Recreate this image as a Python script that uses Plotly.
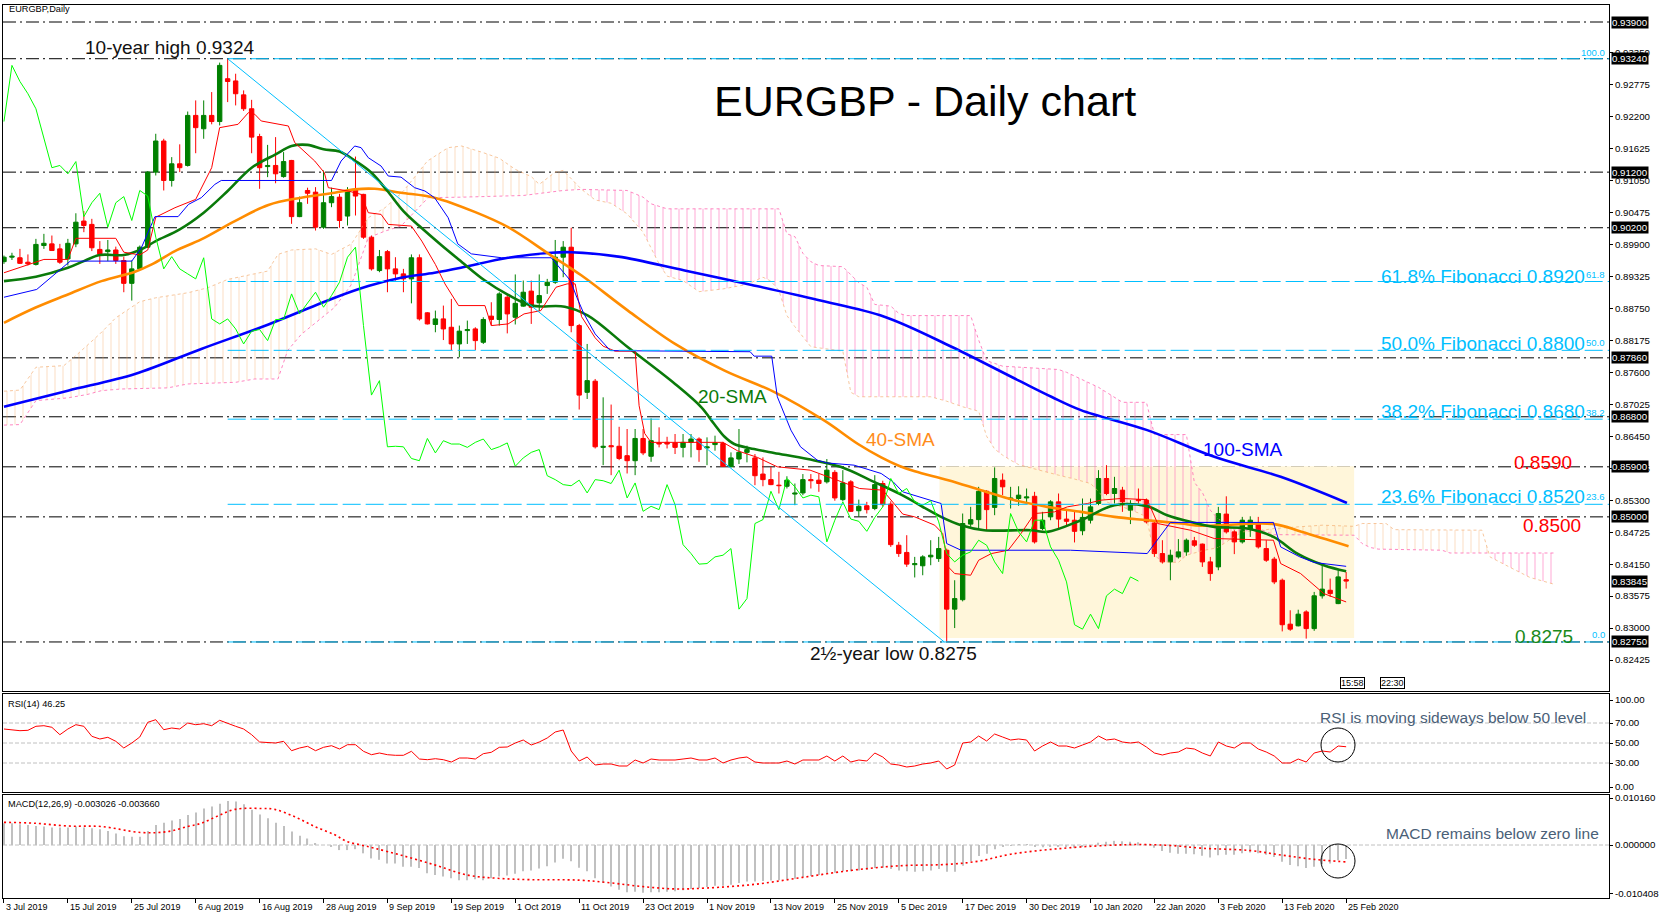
import plotly.graph_objects as go

# ---------------- data ----------------
OPEN = [0.8959, 0.8967, 0.8966, 0.8958, 0.8954, 0.8988, 0.8991, 0.8982, 0.8964, 0.8991,
        0.9032, 0.9026, 0.8981, 0.8977, 0.8980, 0.8961, 0.8920, 0.8946, 0.8985, 0.9120,
        0.9176, 0.9105, 0.9135, 0.9132, 0.9222, 0.9198, 0.9222, 0.9211, 0.9288, 0.9284,
        0.9259, 0.9234, 0.9184, 0.9130, 0.9132, 0.9112, 0.9141, 0.9040, 0.9087, 0.9084,
        0.9021, 0.9065, 0.9075, 0.9041, 0.9088, 0.9080, 0.9003, 0.8943, 0.8977, 0.8946,
        0.8937, 0.8928, 0.8966, 0.8867, 0.8846, 0.8856, 0.8841, 0.8811, 0.8835, 0.8838,
        0.8814, 0.8861, 0.8855, 0.8895, 0.8859, 0.8879, 0.8906, 0.8885, 0.8916, 0.8922,
        0.8967, 0.8985, 0.8844, 0.8724, 0.8744, 0.8625, 0.8628, 0.8627, 0.8610, 0.8601,
        0.8641, 0.8609, 0.8633, 0.8634, 0.8633, 0.8625, 0.8634, 0.8640, 0.8624, 0.8630,
        0.8632, 0.8590, 0.8604, 0.8616, 0.8606, 0.8577, 0.8567, 0.8557, 0.8555, 0.8541,
        0.8543, 0.8567, 0.8566, 0.8563, 0.8580, 0.8531, 0.8563, 0.8511, 0.8520, 0.8515,
        0.8560, 0.8523, 0.8449, 0.8436, 0.8414, 0.8412, 0.8428, 0.8425, 0.8440, 0.8334,
        0.8351, 0.8487, 0.8495, 0.8546, 0.8517, 0.8566, 0.8532, 0.8533, 0.8534, 0.8537,
        0.8479, 0.8500, 0.8527, 0.8496, 0.8494, 0.8475, 0.8494, 0.8524, 0.8569, 0.8542,
        0.8548, 0.8512, 0.8531, 0.8530, 0.8489, 0.8434, 0.8419, 0.8428, 0.8437, 0.8457,
        0.8451, 0.8419, 0.8410, 0.8505, 0.8473, 0.8455, 0.8478, 0.8488, 0.8443, 0.8424,
        0.8386, 0.8307, 0.8304, 0.8329, 0.8299, 0.8358, 0.8368, 0.8344, 0.8387]
HIGH = [0.8970, 0.8975, 0.8982, 0.8972, 0.9000, 0.9009, 0.9006, 0.8991, 0.9000, 0.9046,
        0.9050, 0.9036, 0.8996, 0.8998, 0.8986, 0.8968, 0.8961, 0.8988, 0.9122, 0.9189,
        0.9180, 0.9147, 0.9170, 0.9229, 0.9249, 0.9249, 0.9264, 0.9317, 0.9324, 0.9297,
        0.9267, 0.9250, 0.9189, 0.9169, 0.9183, 0.9156, 0.9142, 0.9076, 0.9092, 0.9093,
        0.9123, 0.9092, 0.9081, 0.9093, 0.9148, 0.9081, 0.9006, 0.8980, 0.8980, 0.8967,
        0.8946, 0.8972, 0.8972, 0.8868, 0.8871, 0.8880, 0.8892, 0.8844, 0.8853, 0.8841,
        0.8859, 0.8886, 0.8904, 0.8901, 0.8936, 0.8925, 0.8925, 0.8936, 0.8928, 0.8998,
        0.8996, 0.9020, 0.8847, 0.8811, 0.8748, 0.8715, 0.8702, 0.8662, 0.8658, 0.8658,
        0.8658, 0.8677, 0.8661, 0.8644, 0.8649, 0.8649, 0.8649, 0.8643, 0.8643, 0.8646,
        0.8635, 0.8616, 0.8658, 0.8628, 0.8613, 0.8607, 0.8590, 0.8581, 0.8573, 0.8560,
        0.8577, 0.8577, 0.8577, 0.8604, 0.8584, 0.8584, 0.8566, 0.8531, 0.8527, 0.8575,
        0.8565, 0.8528, 0.8455, 0.8467, 0.8428, 0.8431, 0.8458, 0.8464, 0.8443, 0.8386,
        0.8506, 0.8518, 0.8554, 0.8548, 0.8589, 0.8578, 0.8554, 0.8555, 0.8551, 0.8545,
        0.8509, 0.8530, 0.8542, 0.8512, 0.8512, 0.8533, 0.8533, 0.8584, 0.8593, 0.8572,
        0.8554, 0.8530, 0.8551, 0.8533, 0.8494, 0.8458, 0.8441, 0.8460, 0.8461, 0.8464,
        0.8452, 0.8428, 0.8518, 0.8537, 0.8476, 0.8500, 0.8501, 0.8500, 0.8458, 0.8428,
        0.8389, 0.8332, 0.8333, 0.8332, 0.8365, 0.8413, 0.8389, 0.8404, 0.8401]
LOW = [0.8955, 0.8962, 0.8955, 0.8952, 0.8952, 0.8982, 0.8979, 0.8955, 0.8952, 0.8985,
       0.9012, 0.8978, 0.8955, 0.8960, 0.8955, 0.8904, 0.8889, 0.8944, 0.8984, 0.9114,
       0.9087, 0.9094, 0.9120, 0.9130, 0.9154, 0.9180, 0.9206, 0.9204, 0.9246, 0.9240,
       0.9230, 0.9154, 0.9090, 0.9111, 0.9100, 0.9110, 0.9027, 0.9039, 0.9063, 0.9015,
       0.9018, 0.9057, 0.9020, 0.9024, 0.9042, 0.9000, 0.8943, 0.8940, 0.8904, 0.8925,
       0.8904, 0.8884, 0.8853, 0.8846, 0.8832, 0.8818, 0.8800, 0.8787, 0.8811, 0.8800,
       0.8811, 0.8844, 0.8844, 0.8830, 0.8846, 0.8878, 0.8847, 0.8870, 0.8901, 0.8919,
       0.8931, 0.8832, 0.8693, 0.8712, 0.8623, 0.8593, 0.8575, 0.8602, 0.8578, 0.8575,
       0.8611, 0.8599, 0.8625, 0.8623, 0.8613, 0.8607, 0.8607, 0.8599, 0.8593, 0.8619,
       0.8590, 0.8589, 0.8595, 0.8598, 0.8557, 0.8555, 0.8557, 0.8542, 0.8551, 0.8521,
       0.8539, 0.8551, 0.8545, 0.8560, 0.8529, 0.8528, 0.8509, 0.8500, 0.8506, 0.8512,
       0.8518, 0.8446, 0.8428, 0.8410, 0.8391, 0.8395, 0.8413, 0.8419, 0.8276, 0.8300,
       0.8348, 0.8482, 0.8479, 0.8476, 0.8503, 0.8539, 0.8515, 0.8520, 0.8524, 0.8452,
       0.8476, 0.8494, 0.8480, 0.8485, 0.8454, 0.8467, 0.8488, 0.8521, 0.8539, 0.8524,
       0.8509, 0.8487, 0.8524, 0.8488, 0.8428, 0.8416, 0.8386, 0.8425, 0.8430, 0.8446,
       0.8410, 0.8385, 0.8404, 0.8470, 0.8433, 0.8452, 0.8464, 0.8443, 0.8419, 0.8379,
       0.8294, 0.8295, 0.8303, 0.8281, 0.8295, 0.8353, 0.8356, 0.8343, 0.8371]
CLOSE = [0.8967, 0.8969, 0.8956, 0.8955, 0.8990, 0.8992, 0.8979, 0.8958, 0.8992, 0.9030,
         0.9024, 0.8984, 0.8972, 0.8980, 0.8961, 0.8920, 0.8946, 0.8985, 0.9120, 0.9176,
         0.9105, 0.9135, 0.9128, 0.9222, 0.9200, 0.9222, 0.9211, 0.9312, 0.9283, 0.9261,
         0.9234, 0.9183, 0.9128, 0.9132, 0.9117, 0.9139, 0.9040, 0.9065, 0.9082, 0.9021,
         0.9065, 0.9076, 0.9033, 0.9087, 0.9077, 0.9003, 0.8946, 0.8968, 0.8946, 0.8937,
         0.8928, 0.8966, 0.8856, 0.8847, 0.8856, 0.8838, 0.8811, 0.8834, 0.8837, 0.8817,
         0.8855, 0.8855, 0.8901, 0.8865, 0.8884, 0.8904, 0.8877, 0.8898, 0.8922, 0.8967,
         0.8985, 0.8844, 0.8719, 0.8745, 0.8626, 0.8627, 0.8626, 0.8605, 0.8601, 0.8641,
         0.8615, 0.8637, 0.8631, 0.8631, 0.8625, 0.8634, 0.8640, 0.8621, 0.8626, 0.8633,
         0.8591, 0.8606, 0.8616, 0.8621, 0.8574, 0.8567, 0.8558, 0.8556, 0.8566, 0.8543,
         0.8567, 0.8565, 0.8560, 0.8584, 0.8534, 0.8561, 0.8510, 0.8519, 0.8513, 0.8558,
         0.8522, 0.8450, 0.8434, 0.8415, 0.8416, 0.8428, 0.8431, 0.8443, 0.8334, 0.8353,
         0.8488, 0.8495, 0.8546, 0.8513, 0.8569, 0.8554, 0.8534, 0.8539, 0.8536, 0.8455,
         0.8494, 0.8527, 0.8496, 0.8492, 0.8474, 0.8499, 0.8518, 0.8569, 0.8542, 0.8551,
         0.8527, 0.8521, 0.8529, 0.8491, 0.8434, 0.8419, 0.8431, 0.8437, 0.8458, 0.8449,
         0.8419, 0.8398, 0.8506, 0.8473, 0.8455, 0.8494, 0.8494, 0.8446, 0.8422, 0.8383,
         0.8306, 0.8298, 0.8325, 0.8299, 0.8358, 0.8370, 0.8362, 0.8392, 0.83845]

# one label every 8 bars, starting at bar 0
DATE_LABELS = ["3 Jul 2019", "15 Jul 2019", "25 Jul 2019", "6 Aug 2019", "16 Aug 2019",
               "28 Aug 2019", "9 Sep 2019", "19 Sep 2019", "1 Oct 2019", "11 Oct 2019",
               "23 Oct 2019", "1 Nov 2019", "13 Nov 2019", "25 Nov 2019", "5 Dec 2019",
               "17 Dec 2019", "30 Dec 2019", "10 Jan 2020", "22 Jan 2020", "3 Feb 2020",
               "13 Feb 2020", "25 Feb 2020"]

# moving averages (bar, value)
SMA20_X = [0, 4, 8, 10, 12, 15, 17, 19, 22, 25, 28, 31, 34, 36, 38, 40, 42, 44, 46, 48, 50, 52,
           54.8, 57, 60.2, 63, 66, 70.2, 73.1, 78.1, 84, 87.3, 88.9, 90.2, 91.4, 93.9, 96.4,
           100.6, 104.7, 108.9, 112.3, 117.3, 119.8, 122.7, 128.6, 130.6, 134.8, 139, 143.1,
           145.6, 148.5, 151.5, 155.6, 158.9, 161.9, 165.2, 168]
SMA20_Y = [0.8924, 0.8932, 0.8948, 0.8960, 0.8971, 0.8971, 0.8980, 0.8996, 0.9017, 0.9047,
           0.9086, 0.9128, 0.9152, 0.9167, 0.9169, 0.9161, 0.9157, 0.9140, 0.9119, 0.9086,
           0.9050, 0.9023, 0.8988, 0.8962, 0.8925, 0.8900, 0.8880, 0.8878, 0.8862, 0.8805,
           0.8739, 0.8697, 0.8667, 0.8644, 0.8631, 0.8622, 0.8615, 0.8604, 0.8590, 0.8563,
           0.8540, 0.8500, 0.8485, 0.8476, 0.8476, 0.8473, 0.8494, 0.8521, 0.8519, 0.8503,
           0.8491, 0.8482, 0.8479, 0.8464, 0.8434, 0.8413, 0.8402]
SMA40_X = [0, 3.9, 8, 12.2, 16.4, 18.5, 21.4, 24.7, 28.9, 33.1, 37.2, 41.4, 43.9, 46.4, 49.7,
           53.9, 59, 63.1, 68.5, 72.3, 78.1, 84, 90.2, 96.5, 102.7, 106.9, 109.8, 112, 114,
           118.2, 122.3, 126.5, 130.6, 134.8, 139, 143.1, 147.3, 150, 159, 162.4, 168.3]
SMA40_Y = [0.8849, 0.8876, 0.8900, 0.8924, 0.8941, 0.8954, 0.8978, 0.8999, 0.9032, 0.9061,
           0.9074, 0.9083, 0.9089, 0.9090, 0.9083, 0.9074, 0.9048, 0.9021, 0.8970, 0.8934,
           0.8871, 0.8811, 0.8763, 0.8724, 0.8673, 0.8631, 0.8607, 0.8592, 0.8582, 0.8566,
           0.8548, 0.8530, 0.8518, 0.8509, 0.8500, 0.8494, 0.8488, 0.8484, 0.8487, 0.8473,
           0.8447]
SMA100_X = [0, 8, 16.4, 24.7, 33.1, 41.4, 45.6, 49.7, 53.9, 57.2, 63.1, 68.5, 71, 76.9, 85.2,
            93.6, 101.9, 110.2, 118.6, 126.9, 131.1, 134.8, 143.1, 151.5, 159.8, 168.1]
SMA100_Y = [0.8698, 0.8727, 0.8757, 0.8802, 0.8846, 0.8894, 0.8915, 0.8930, 0.8939, 0.8948,
            0.8966, 0.8975, 0.8976, 0.8968, 0.8943, 0.8917, 0.8890, 0.8860, 0.8806, 0.8746,
            0.8716, 0.8692, 0.8656, 0.8608, 0.8572, 0.8525]

# Ichimoku lines (bar, value)
TENKAN_X = [0, 5, 8, 9, 14, 15, 17, 18, 19, 21.4, 24, 26, 27, 29.3, 30.6, 31.4, 32.2, 35.6,
            36.4, 38.9, 40.1, 40.6, 43.1, 44.7, 45.6, 47.2, 48.1, 51, 52.3, 54, 55.2, 56.9,
            60.2, 61, 63.1, 65.1, 67.2, 69.1, 70.5, 71.5, 72.3, 74, 75, 76.5, 79, 79.5, 80.2,
            81, 90, 91.8, 94.3, 96.8, 100.9, 105, 107.1, 110, 112.5, 114, 116.5, 117.5, 118.2,
            119, 121, 122, 123.6, 125.7, 127.3, 129, 131.5, 133.1, 135.6, 137.3, 139.8, 143.1,
            144.4, 148.5, 151.5, 158.9, 159.8, 162.3, 165.2, 168]
TENKAN_Y = [0.8939, 0.8963, 0.8963, 0.9001, 0.9001, 0.8976, 0.8971, 0.8980, 0.9039, 0.9056,
            0.9071, 0.9128, 0.9200, 0.9206, 0.9227, 0.9224, 0.9212, 0.9203, 0.9173, 0.9140,
            0.9119, 0.9092, 0.9086, 0.9080, 0.9047, 0.9044, 0.9026, 0.9023, 0.8996, 0.8954,
            0.8919, 0.8880, 0.8880, 0.8844, 0.8847, 0.8865, 0.8871, 0.8913, 0.8919, 0.8919,
            0.8860, 0.8822, 0.8807, 0.8798, 0.8798, 0.8700, 0.8650, 0.8634, 0.8634, 0.8619,
            0.8607, 0.8590, 0.8584, 0.8563, 0.8551, 0.8548, 0.8505, 0.8500, 0.8485, 0.8470,
            0.8410, 0.8398, 0.8395, 0.8422, 0.8434, 0.8440, 0.8470, 0.8506, 0.8509, 0.8518,
            0.8524, 0.8530, 0.8533, 0.8531, 0.8488, 0.8476, 0.8461, 0.8458, 0.8416, 0.8398,
            0.8362, 0.8347]
KIJUN_X = [0, 4.1, 8.3, 16, 17.2, 18.9, 21.8, 23.1, 24.7, 26.4, 27.2, 41, 42.2, 43.9, 44.7,
           45.6, 47.2, 48.1, 49.7, 51.4, 52.7, 53.9, 55.6, 56.8, 58.5, 62.3, 68.5, 70.9, 71.7,
           72.6, 74, 75.9, 93.4, 93.9, 96.1, 96.8, 98.5, 99.7, 101.8, 103, 106.4, 109.8, 111.3,
           112.5, 117.3, 118, 119.8, 133.5, 143.1, 146, 158.9, 159.8, 162.2, 164, 168]
KIJUN_Y = [0.8895, 0.8909, 0.8960, 0.8960, 0.8984, 0.9040, 0.9040, 0.9062, 0.9074, 0.9098,
           0.9105, 0.9105, 0.9140, 0.9167, 0.9164, 0.9146, 0.9131, 0.9113, 0.9111, 0.9092,
           0.9086, 0.9074, 0.9038, 0.8991, 0.8973, 0.8966, 0.8966, 0.8925, 0.8895, 0.8865,
           0.8829, 0.8799, 0.8797, 0.8789, 0.8789, 0.8716, 0.8656, 0.8626, 0.8602, 0.8597,
           0.8593, 0.8578, 0.8563, 0.8545, 0.8524, 0.8452, 0.8440, 0.8440, 0.8434, 0.8490,
           0.8490, 0.8446, 0.8428, 0.8418, 0.8411]
CHIKOU_SHIFT = 26

# Ichimoku spans (bar, value), the cloud runs 26 bars past the last candle
SPAN_A_X = [0, 2, 4, 7.5, 9, 12, 14, 17, 19, 23, 25.5, 28, 33, 34.3, 36, 39, 41, 43.5, 45.6,
            47.7, 50, 53, 55.6, 57.3, 60, 62, 64, 66, 67, 69, 70, 71, 72, 72.3, 74, 76, 78, 80,
            82, 83, 85, 87, 90, 93, 95, 96, 97, 98, 99, 100, 101, 105, 106, 107, 116, 118, 120,
            122, 123, 124, 125, 126, 127, 128, 130, 132, 134, 136, 137, 138, 139, 140, 142, 143,
            144, 145, 147, 148, 150, 152, 153, 155, 157, 157.5, 159, 162, 165, 169, 170, 173,
            174, 185, 185.85, 186, 188, 191, 194]
SPAN_A_Y = [0.8726, 0.8728, 0.8769, 0.8772, 0.8790, 0.8829, 0.8858, 0.8887, 0.8894, 0.8903,
            0.8912, 0.8927, 0.8942, 0.8972, 0.8980, 0.8982, 0.8972, 0.8991, 0.9038, 0.9056,
            0.9086, 0.9140, 0.9164, 0.9167, 0.9155, 0.9145, 0.9125, 0.9112, 0.9098, 0.9120,
            0.9123, 0.9108, 0.9093, 0.9089, 0.9070, 0.9064, 0.9045, 0.9012, 0.8955, 0.8933,
            0.8925, 0.8905, 0.8910, 0.8918, 0.8931, 0.8924, 0.8907, 0.8862, 0.8842, 0.8825,
            0.8806, 0.8798, 0.8724, 0.8716, 0.8716, 0.8708, 0.8698, 0.8690, 0.8645, 0.8622,
            0.8611, 0.8602, 0.8594, 0.8590, 0.8582, 0.8575, 0.8568, 0.8560, 0.8546, 0.8527,
            0.8521, 0.8518, 0.8507, 0.8500, 0.8431, 0.8419, 0.8418, 0.8431, 0.8439, 0.8445,
            0.8455, 0.8473, 0.8475, 0.8476, 0.8479, 0.8482, 0.8485, 0.8483, 0.8488, 0.8488,
            0.8477, 0.8476, 0.8435, 0.8428, 0.8413, 0.8391, 0.8379]
SPAN_B_X = [0, 2, 4, 8, 10.4, 12.2, 14.7, 20.5, 23, 29, 31.4, 34.3, 35.5, 37.2, 41.4, 43.5,
            45.6, 47.7, 49.7, 53.1, 57.3, 65, 70, 72.3, 78, 80, 81, 83, 97, 98, 99, 100, 101,
            102, 105, 106, 107, 108, 109, 111, 112, 113, 121, 122, 123, 125, 132, 133, 137, 138,
            139, 140, 143, 144, 148, 149, 150, 151, 152, 153, 154, 157, 157.5, 159, 169, 170,
            171, 172, 180, 181, 185.85, 194]
SPAN_B_Y = [0.8665, 0.8666, 0.8709, 0.8714, 0.8720, 0.8727, 0.8730, 0.8732, 0.8739, 0.8742,
            0.8748, 0.8748, 0.8799, 0.8828, 0.8877, 0.8918, 0.9002, 0.9014, 0.9023, 0.9074,
            0.9075, 0.9078, 0.9087, 0.9089, 0.9087, 0.9075, 0.9063, 0.9054, 0.9054, 0.9009,
            0.9004, 0.8974, 0.8959, 0.8952, 0.8950, 0.8936, 0.8921, 0.8913, 0.8882, 0.8879,
            0.8866, 0.8862, 0.8862, 0.8818, 0.8781, 0.8771, 0.8765, 0.8760, 0.8733, 0.8724,
            0.8715, 0.8706, 0.8706, 0.8648, 0.8648, 0.8562, 0.8544, 0.8512, 0.8496, 0.8489,
            0.8477, 0.8477, 0.8476, 0.8468, 0.8467, 0.8452, 0.8445, 0.8442, 0.8440, 0.8435,
            0.8435, 0.8435]
# bars where span A and span B cross (shared points of both lists)
KUMO_BREAKS = [0, 72.3, 157.5, 185.85, 194]
KUMO_UP = [True, False, True, False]     # True: span A above span B

RSI = [64.0, 63.0, 62.3, 62.7, 66.7, 67.3, 65.7, 58.3, 64.0, 68.3, 66.7, 56.7, 54.0, 55.7, 51.7,
       45.0, 50.0, 56.0, 70.7, 73.3, 63.3, 65.0, 64.0, 70.0, 68.3, 69.3, 67.3, 72.7, 69.3, 66.7,
       64.0, 58.3, 51.0, 50.7, 50.0, 51.7, 42.3, 45.0, 46.7, 42.3, 45.7, 47.3, 44.0, 48.3, 48.3,
       41.7, 38.3, 40.0, 38.3, 37.7, 37.7, 41.7, 34.0, 33.3, 34.3, 33.3, 31.0, 35.0, 35.0, 34.0,
       39.3, 40.7, 45.7, 46.0, 50.0, 53.0, 48.0, 51.0, 55.0, 61.0, 63.0, 42.0, 32.0, 36.0, 28.0,
       29.0, 29.0, 27.0, 27.0, 33.0, 30.0, 34.0, 33.0, 33.0, 33.0, 34.0, 35.0, 33.0, 33.0, 35.0,
       30.0, 33.0, 35.0, 36.0, 31.0, 30.0, 30.0, 30.0, 32.0, 29.0, 33.0, 33.0, 33.0, 37.0, 32.0,
       37.0, 31.0, 33.0, 32.0, 40.0, 36.0, 29.0, 28.0, 26.0, 27.0, 29.0, 30.0, 32.0, 24.0, 28.0,
       50.0, 51.0, 57.0, 52.0, 59.0, 56.0, 53.0, 54.0, 53.0, 42.0, 47.0, 51.0, 47.0, 47.0, 45.0,
       48.0, 51.0, 57.0, 53.0, 54.0, 51.0, 50.0, 51.0, 46.0, 40.0, 38.0, 40.0, 41.0, 45.0, 44.0,
       40.0, 37.0, 51.0, 47.0, 45.0, 50.0, 50.0, 44.0, 41.0, 37.0, 30.0, 30.0, 34.0, 31.0, 40.0,
       42.0, 41.0, 47.0, 46.25]
RSI_LEVELS = [70, 50, 30]

MACD = [0.0047, 0.0047, 0.0045, 0.0043, 0.0041, 0.0040, 0.0038, 0.0038, 0.0038, 0.0040,
        0.0038, 0.0036, 0.0034, 0.0030, 0.0025, 0.0019, 0.0018, 0.0018, 0.0030, 0.0043,
        0.0048, 0.0053, 0.0056, 0.0065, 0.0070, 0.0079, 0.0083, 0.0089, 0.0095, 0.0094,
        0.0088, 0.0076, 0.0066, 0.0058, 0.0048, 0.0041, 0.0029, 0.0020, 0.0014, 0.0004,
        0.0000, -0.0004, -0.0011, -0.0011, -0.0009, -0.0018, -0.0029, -0.0032, -0.0040, -0.0040,
        -0.0047, -0.0047, -0.0050, -0.0061, -0.0065, -0.0068, -0.0072, -0.0076, -0.0076, -0.0074,
        -0.0076, -0.0072, -0.0068, -0.0066, -0.0062, -0.0057, -0.0055, -0.0051, -0.0046, -0.0038,
        -0.0030, -0.0035, -0.0049, -0.0057, -0.0072, -0.0082, -0.0090, -0.0097, -0.0102, -0.0101,
        -0.0103, -0.0102, -0.0102, -0.0101, -0.0100, -0.0098, -0.0095, -0.0093, -0.0091, -0.0088,
        -0.0088, -0.0086, -0.0082, -0.0079, -0.0079, -0.0078, -0.0077, -0.0076, -0.0074, -0.0073,
        -0.0070, -0.0067, -0.0065, -0.0061, -0.0060, -0.0057, -0.0057, -0.0055, -0.0054, -0.0050,
        -0.0049, -0.0052, -0.0055, -0.0057, -0.0058, -0.0057, -0.0055, -0.0052, -0.0058, -0.0058,
        -0.0045, -0.0035, -0.0024, -0.0019, -0.0009, -0.0003, -0.0001, 0.0001, 0.0002, -0.0004,
        -0.0005, -0.0003, -0.0004, -0.0004, -0.0006, -0.0004, -0.0001, 0.0005, 0.0007, 0.0009,
        0.0008, 0.0007, 0.0006, 0.0002, -0.0006, -0.0013, -0.0017, -0.0019, -0.0019, -0.0020,
        -0.0023, -0.0027, -0.0022, -0.0021, -0.0021, -0.0018, -0.0016, -0.0018, -0.0021, -0.0026,
        -0.0036, -0.0043, -0.0046, -0.0050, -0.0047, -0.0042, -0.0040, -0.0033, -0.003026]
SIGNAL_X = [0, 3.9, 8, 12.2, 17.2, 20.5, 23, 24.7, 26.8, 28.9, 32.2, 33.9, 36.4, 38.9, 41.4, 43,
            44.7, 46.4, 49.7, 53.9, 58, 61.8, 66, 72, 76, 80, 84, 88, 94, 100, 106, 112, 118,
            122, 126, 132, 138, 142, 146, 150, 156, 160, 164, 168]
SIGNAL_Y = [0.0049, 0.0047, 0.0041, 0.0040, 0.0027, 0.0029, 0.0040, 0.0047, 0.0063, 0.0077,
            0.0079, 0.0077, 0.0061, 0.0040, 0.0022, 0.0007, 0.0000, -0.0007, -0.0022, -0.0043,
            -0.0065, -0.0072, -0.0075, -0.0076, -0.0082, -0.0090, -0.0095, -0.0093, -0.0085,
            -0.0070, -0.0055, -0.0045, -0.0042, -0.0035, -0.0020, -0.0008, -0.0001, 0.0001,
            -0.0001, -0.0007, -0.0012, -0.0022, -0.0031, -0.00366]

LEVELS = [0.9390, 0.9324, 0.9120, 0.9020, 0.8786, 0.8680, 0.8590, 0.8500, 0.8275]
FIB_HIGH, FIB_LOW = 0.9324, 0.8275
FIB_HIGH_BAR, FIB_LOW_BAR = 28, 117.7
FIB_PCT = [100.0, 61.8, 50.0, 38.2, 23.6, 0.0]
FIB_TEXT = {61.8: "61.8% Fibonacci 0.8920", 50.0: "50.0% Fibonacci 0.8800",
            38.2: "38.2% Fibonacci 0.8680", 23.6: "23.6% Fibonacci 0.8520"}
LAST_PRICE = 0.83845
RANGE_BOX = (117.1, 169.0, 0.8282, 0.8591)
PRICE_TICKS = [0.82425, 0.83000, 0.83575, 0.84150, 0.84725, 0.85300, 0.85875, 0.86450,
               0.87025, 0.87600, 0.88175, 0.88750, 0.89325, 0.89900, 0.90475, 0.91050,
               0.91625, 0.92200, 0.92775, 0.93350]

# ---------------- page geometry ----------------
W, H = 1662, 919
ML, MR, MT, MB = 3, 53, 5, 21
PW, PH = W - ML - MR, H - MT - MB


def px(x):
    return (x - ML) / PW


def py(y):
    return (H - MB - y) / PH


FONT = "Liberation Sans, Arial, sans-serif"
GREEN, RED = "#008000", "#FF0000"
FIB_COL = "#00BFFF"
PINK, SAND = "#FF69B4", "#F4A460"

n = len(CLOSE)
idx = list(range(n))
fig = go.Figure()

# ---------------- Ichimoku cloud ----------------
for k, up in enumerate(KUMO_UP):
    s, e = KUMO_BREAKS[k], KUMO_BREAKS[k + 1]
    ax = [x for x in SPAN_A_X if s <= x <= e]
    ay = [y for x, y in zip(SPAN_A_X, SPAN_A_Y) if s <= x <= e]
    bx = [x for x in SPAN_B_X if s <= x <= e]
    by = [y for x, y in zip(SPAN_B_X, SPAN_B_Y) if s <= x <= e]
    col = SAND if up else PINK
    fig.add_trace(go.Scatter(x=ax, y=ay, mode="lines", line=dict(width=0),
                             hoverinfo="skip", showlegend=False))
    fig.add_trace(go.Scatter(x=bx, y=by, mode="lines", line=dict(width=0),
                             fill="tonexty", fillcolor="rgba(0,0,0,0)",
                             fillpattern=dict(shape="|", size=8, solidity=0.12,
                                              fgcolor=col, fgopacity=0.4 if up else 0.6,
                                              bgcolor="rgba(0,0,0,0)"),
                             hoverinfo="skip", showlegend=False))

fig.add_trace(go.Scatter(x=SPAN_A_X, y=SPAN_A_Y, mode="lines", opacity=0.6,
                         line=dict(color=SAND, width=1, dash="dot"), showlegend=False))
fig.add_trace(go.Scatter(x=SPAN_B_X, y=SPAN_B_Y, mode="lines", opacity=0.8,
                         line=dict(color=PINK, width=1, dash="dot"), showlegend=False))

# ---------------- candles ----------------
up = [c >= o for o, c in zip(OPEN, CLOSE)]
ccol = [GREEN if u else RED for u in up]
for flag, col in ((True, GREEN), (False, RED)):
    wx, wy = [], []
    for i in idx:
        if up[i] == flag:
            wx += [i, i, None]
            wy += [LOW[i], HIGH[i], None]
    fig.add_trace(go.Scatter(x=wx, y=wy, mode="lines", line=dict(color=col, width=1),
                             hoverinfo="skip", showlegend=False))
fig.add_trace(go.Bar(x=idx, base=[min(o, c) for o, c in zip(OPEN, CLOSE)],
                     y=[max(abs(c - o), 0.00004) for o, c in zip(OPEN, CLOSE)],
                     width=0.55, marker=dict(color=ccol, line=dict(color=ccol, width=1)),
                     showlegend=False))

# ---------------- moving averages and Ichimoku lines ----------------
fig.add_trace(go.Scatter(x=SMA100_X, y=SMA100_Y, mode="lines", line_shape="spline",
                         line=dict(color="#0000FF", width=2.6), showlegend=False))
fig.add_trace(go.Scatter(x=SMA40_X, y=SMA40_Y, mode="lines", line_shape="spline",
                         line=dict(color="#FF8C00", width=2.6), showlegend=False))
fig.add_trace(go.Scatter(x=SMA20_X, y=SMA20_Y, mode="lines", line_shape="spline",
                         line=dict(color="#0A7A0A", width=2.6), showlegend=False))
fig.add_trace(go.Scatter(x=TENKAN_X, y=TENKAN_Y, mode="lines",
                         line=dict(color=RED, width=1), showlegend=False))
fig.add_trace(go.Scatter(x=KIJUN_X, y=KIJUN_Y, mode="lines",
                         line=dict(color="#0000FF", width=1), showlegend=False))
fig.add_trace(go.Scatter(x=[i - CHIKOU_SHIFT for i in idx[CHIKOU_SHIFT:]],
                         y=CLOSE[CHIKOU_SHIFT:], mode="lines",
                         line=dict(color="#00FF00", width=1), showlegend=False))

# ---------------- RSI ----------------
fig.add_trace(go.Scatter(x=idx, y=RSI, mode="lines", line=dict(color=RED, width=1),
                         xaxis="x2", yaxis="y2", showlegend=False))

# ---------------- MACD ----------------
fig.add_trace(go.Bar(x=idx, y=MACD, width=0.14, marker=dict(color="#C0C0C0", line_width=0),
                     xaxis="x3", yaxis="y3", showlegend=False))
fig.add_trace(go.Scatter(x=SIGNAL_X, y=SIGNAL_Y, mode="lines", line_shape="spline",
                         line=dict(color=RED, width=1.6, dash="2px,3px"),
                         xaxis="x3", yaxis="y3", showlegend=False))

# ---------------- shapes ----------------
shapes = []
x0b, x1b, y0b, y1b = RANGE_BOX
shapes.append(dict(type="rect", xref="x", yref="y", x0=x0b, x1=x1b, y0=y0b, y1=y1b,
                   fillcolor="#FFF6DA", line_width=0, layer="below"))
for lv in LEVELS:
    shapes.append(dict(type="line", xref="paper", yref="y", x0=0, x1=1, y0=lv, y1=lv,
                       line=dict(color="black", width=1, dash="13px,4px,2px,4px"),
                       layer="below"))
for p in FIB_PCT:
    lv = FIB_LOW + (FIB_HIGH - FIB_LOW) * p / 100
    shapes.append(dict(type="line", xref="x", yref="y", x0=FIB_HIGH_BAR, x1=201.1,
                       y0=lv, y1=lv, line=dict(color=FIB_COL, width=1, dash="18px,5px")))
shapes.append(dict(type="line", xref="x", yref="y", x0=FIB_HIGH_BAR, y0=FIB_HIGH,
                   x1=FIB_LOW_BAR, y1=FIB_LOW, line=dict(color=FIB_COL, width=1)))
for lv in RSI_LEVELS:
    shapes.append(dict(type="line", xref="paper", yref="y2", x0=0, x1=1, y0=lv, y1=lv,
                       line=dict(color="#C0C0C0", width=1, dash="4px,2px"), layer="below"))
shapes.append(dict(type="line", xref="paper", yref="y3", x0=0, x1=1, y0=0, y1=0,
                   line=dict(color="#C0C0C0", width=1, dash="4px,2px"), layer="below"))
for cy in (745, 861):
    shapes.append(dict(type="circle", xref="paper", yref="paper",
                       x0=px(1338 - 17), x1=px(1338 + 17), y0=py(cy + 17), y1=py(cy - 17),
                       line=dict(color="black", width=1)))

# ---------------- annotations ----------------
ann = []


def text(x, y, s, size, color="black", xanchor="center", **kw):
    ann.append(dict(x=px(x), y=py(y), xref="paper", yref="paper", text=s, showarrow=False,
                    xanchor=xanchor, yanchor="middle",
                    font=dict(family=FONT, size=size, color=color), **kw))


text(7, 9, "EURGBP,Daily", 9.2, xanchor="left")
text(83, 47, "10-year high 0.9324", 19, color="#111111", xanchor="left")
text(925, 101, "EURGBP - Daily chart", 43)
text(893, 653, "2½-year low 0.8275", 19, color="#111111")
text(732, 396, "20-SMA", 19, color="#0A7A0A")
text(900, 439, "40-SMA", 19, color="#FF8C1A")
text(1243, 449, "100-SMA", 19, color="#0000FF")
text(1543, 462, "0.8590", 19, color=RED)
text(1552, 525, "0.8500", 19, color=RED)
text(1544, 636, "0.8275", 19, color="#1A8A1A")
for p, yy in ((61.8, 276), (50.0, 343), (38.2, 411), (23.6, 496)):
    text(1587, yy, FIB_TEXT[p], 19, color=FIB_COL, xanchor="right")
for p, yy in ((100.0, 52), (61.8, 274), (50.0, 342), (38.2, 412), (23.6, 496), (0.0, 634)):
    text(1607, yy, "%.1f" % p, 9.5, color=FIB_COL, xanchor="right")
text(6, 704, "RSI(14) 46.25", 9.2, xanchor="left")
text(6, 804, "MACD(12,26,9) -0.003026 -0.003660", 9.2, xanchor="left")
text(1588, 717, "RSI is moving sideways below 50 level", 15.5, color="#4A6077",
     xanchor="right")
text(1601, 833, "MACD remains below zero line", 15.5, color="#4A6077", xanchor="right")
text(1352, 683, "15:58", 9, bgcolor="white", bordercolor="black", borderwidth=1,
     borderpad=0)
text(1392, 683, "22:30", 9, bgcolor="white", bordercolor="black", borderwidth=1,
     borderpad=0)

# black price boxes on the right scale
for lv in LEVELS + [LAST_PRICE]:
    ann.append(dict(x=1, y=lv, xref="paper", yref="y", text="%.5f" % lv, showarrow=False,
                    xanchor="left", yanchor="middle", xshift=2, bgcolor="black",
                    borderpad=0, font=dict(family=FONT, size=9.7, color="white")))

# date labels under the MACD pane
for k, lab in enumerate(DATE_LABELS):
    ann.append(dict(x=8 * k, y=py(907), xref="x3", yref="paper", text=lab, showarrow=False,
                    xanchor="left", yanchor="middle",
                    font=dict(family=FONT, size=9, color="black")))

# ---------------- axes / layout ----------------
xr = [-0.12, 200.9]
axis_common = dict(showgrid=False, zeroline=False, showline=True, mirror=True,
                   linecolor="black", linewidth=1)
fig.update_layout(
    width=W, height=H,
    margin=dict(l=ML, r=MR, t=MT, b=MB),
    paper_bgcolor="white", plot_bgcolor="white",
    barmode="overlay", hovermode=False, showlegend=False,
    xaxis=dict(domain=[0, 1], range=xr, anchor="y", showticklabels=False, ticks="",
               **axis_common),
    xaxis2=dict(domain=[0, 1], range=xr, anchor="y2", matches="x", showticklabels=False,
                ticks="", **axis_common),
    xaxis3=dict(domain=[0, 1], range=xr, anchor="y3", matches="x", showticklabels=False,
                ticks="outside", ticklen=4, tickcolor="black",
                tickvals=[8 * k for k in range(len(DATE_LABELS))], **axis_common),
    yaxis=dict(domain=[py(691), 1], range=[0.81868, 0.94206], side="right", anchor="x",
               tickvals=PRICE_TICKS, ticktext=["%.5f" % v for v in PRICE_TICKS],
               ticks="outside", ticklen=3, tickcolor="black",
               tickfont=dict(family=FONT, size=9.7, color="black"), **axis_common),
    yaxis2=dict(domain=[py(792), py(694)], range=[1, 99], side="right", anchor="x2",
                tickvals=[93, 70, 50, 30, 6],
                ticktext=["100.00", "70.00", "50.00", "30.00", "0.00"],
                ticks="outside", ticklen=3, tickcolor="black",
                tickfont=dict(family=FONT, size=9.7, color="black"), **axis_common),
    yaxis3=dict(domain=[0, py(795)], range=[-0.01146, 0.01081], side="right", anchor="x3",
                tickvals=[0.01016, 0, -0.010408],
                ticktext=["0.010160", "0.000000", "-0.010408"],
                ticks="outside", ticklen=3, tickcolor="black",
                tickfont=dict(family=FONT, size=9.7, color="black"), **axis_common),
    shapes=shapes,
    annotations=ann,
)

# the page body has a default 8px margin; drop it so the chart fills the window
fig.write_html("out.html", config={"displayModeBar": False},
               post_script="document.body.style.margin='0px';")
